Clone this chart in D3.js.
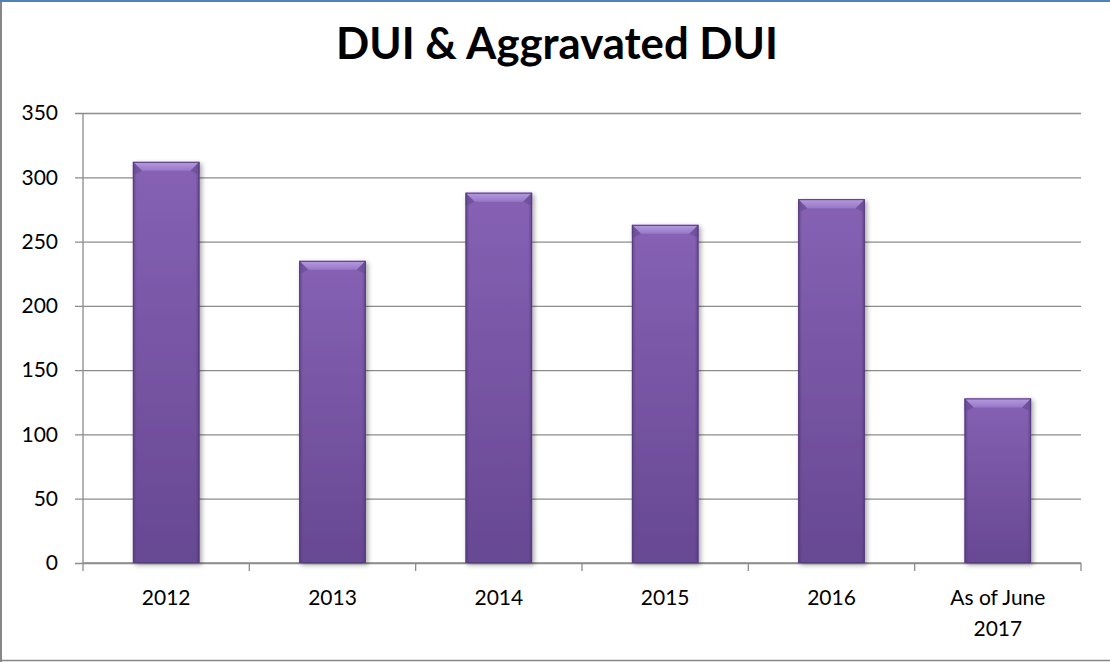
<!DOCTYPE html>
<html>
<head>
<meta charset="utf-8">
<script src="https://cdn.jsdelivr.net/npm/d3@7"></script>
<style>
  html, body { margin: 0; padding: 0; background: #fff; }
  svg { display: block; }
  text { font-family: Lato, "Open Sans", sans-serif; fill: #000; }
</style>
</head>
<body>
<svg id="chart" width="1110" height="662"></svg>
<script>
// Yearly counts of DUI & Aggravated DUI
const categories = ["2012", "2013", "2014", "2015", "2016", "As of June 2017"];
const values = [312, 235, 288, 263, 283, 128];
const yTicks = [0, 50, 100, 150, 200, 250, 300, 350];
const title = "DUI & Aggravated DUI";

const W = 1110, H = 662;
const margin = { top: 113, right: 29, bottom: 99, left: 83 };
const innerW = W - margin.left - margin.right;
const innerH = H - margin.top - margin.bottom;
const labelSize = 21;

const svg = d3.select("#chart");
const defs = svg.append("defs");

// Bar body: lighter near the top, darker near the base
const body = defs.append("linearGradient").attr("id", "barBody")
  .attr("x1", 0).attr("y1", 0).attr("x2", 0).attr("y2", 1);
body.append("stop").attr("offset", "0%").attr("stop-color", "#8661b4");
body.append("stop").attr("offset", "100%").attr("stop-color", "#674893");

// Horizontal shading for the side edges
const sides = defs.append("linearGradient").attr("id", "barSides")
  .attr("x1", 0).attr("y1", 0).attr("x2", 1).attr("y2", 0);
sides.append("stop").attr("offset", "0%").attr("stop-color", "#4e3570").attr("stop-opacity", 0.55);
sides.append("stop").attr("offset", "6%").attr("stop-color", "#4e3570").attr("stop-opacity", 0.0);
sides.append("stop").attr("offset", "94%").attr("stop-color", "#4e3570").attr("stop-opacity", 0.0);
sides.append("stop").attr("offset", "100%").attr("stop-color", "#4e3570").attr("stop-opacity", 0.55);

const bevel = defs.append("linearGradient").attr("id", "barBevel")
  .attr("x1", 0).attr("y1", 0).attr("x2", 0).attr("y2", 1);
bevel.append("stop").attr("offset", "0%").attr("stop-color", "#b79be0");
bevel.append("stop").attr("offset", "100%").attr("stop-color", "#9677c6");

const shadow = defs.append("filter").attr("id", "barShadow")
  .attr("x", "-20%").attr("y", "-5%").attr("width", "140%").attr("height", "115%");
shadow.append("feGaussianBlur").attr("in", "SourceAlpha").attr("stdDeviation", 2.5);
shadow.append("feOffset").attr("dx", 1.5).attr("dy", 1.5).attr("result", "blur");
shadow.append("feComponentTransfer").append("feFuncA").attr("type", "linear").attr("slope", 0.35);
const merge = shadow.append("feMerge");
merge.append("feMergeNode");
merge.append("feMergeNode").attr("in", "SourceGraphic");

// Frame: blue top rule, grey left and bottom edges
svg.append("rect").attr("x", 0).attr("y", 0).attr("width", W).attr("height", 2).attr("fill", "#4f81bd");
svg.append("line").attr("x1", 1).attr("x2", 1).attr("y1", 2).attr("y2", H)
  .attr("stroke", "#868686").attr("stroke-width", 2);
svg.append("line").attr("x1", 0).attr("x2", W).attr("y1", H - 1.5).attr("y2", H - 1.5)
  .attr("stroke", "#868686").attr("stroke-width", 1.5);

// Title
const titleText = svg.append("text")
  .attr("x", 557).attr("y", 59)
  .attr("text-anchor", "middle")
  .attr("font-weight", 700)
  .attr("font-size", 40)
  .text(title);
const tw = titleText.node().getComputedTextLength();
titleText.attr("font-size", 40 * 442 / tw);

const g = svg.append("g").attr("transform", `translate(${margin.left},${margin.top})`);

const x = d3.scaleBand().domain(categories).range([0, innerW])
  .paddingInner(0.6).paddingOuter(0.3);
const y = d3.scaleLinear().domain([0, 350]).range([innerH, 0]);

// Horizontal gridlines with left tick marks
const yAxis = d3.axisLeft(y).tickValues(yTicks).tickSize(-innerW - 8).tickPadding(25);
const yG = g.append("g").call(yAxis);
yG.attr("font-size", labelSize).attr("font-family", null);
yG.select(".domain").remove();
yG.selectAll(".tick line").attr("x1", -8).attr("x2", innerW)
  .attr("stroke", "#8c8c8c").attr("stroke-width", 1.3);
yG.selectAll(".tick text").attr("fill", "#000");

// Vertical axis line
g.append("line").attr("x1", 0).attr("x2", 0).attr("y1", 0).attr("y2", innerH)
  .attr("stroke", "#8c8c8c").attr("stroke-width", 1.3);

// Category axis: ticks sit between categories
const edges = d3.range(categories.length + 1).map(i => i * x.step());
const xG = g.append("g").attr("transform", `translate(0,${innerH})`);
xG.append("line").attr("x1", 0).attr("x2", innerW).attr("stroke", "#8c8c8c").attr("stroke-width", 1.3);
xG.selectAll("line.tick").data(edges).join("line").attr("class", "tick")
  .attr("x1", d => d).attr("x2", d => d).attr("y1", 0).attr("y2", 8)
  .attr("stroke", "#8c8c8c").attr("stroke-width", 1.3);

// Category labels, wrapped onto two lines where long
const labelLines = { "As of June 2017": ["As of June", "2017"] };
xG.selectAll("text.cat").data(categories).join("text").attr("class", "cat")
  .attr("text-anchor", "middle").attr("font-size", labelSize)
  .attr("x", d => x(d) + x.bandwidth() / 2)
  .each(function (d) {
    const lines = labelLines[d] || [d];
    d3.select(this).selectAll("tspan").data(lines).join("tspan")
      .attr("x", x(d) + x.bandwidth() / 2)
      .attr("y", (l, i) => 42 + i * 31)
      .text(l => l);
  });

// Bevelled bars
const bars = g.selectAll("g.bar").data(values).join("g").attr("class", "bar")
  .attr("filter", "url(#barShadow)");
const bx = (d, i) => x(categories[i]);
const bw = x.bandwidth();
const bev = 9;

bars.append("rect")
  .attr("x", bx).attr("y", d => y(d))
  .attr("width", bw).attr("height", d => innerH - y(d))
  .attr("fill", "url(#barBody)");
bars.append("rect")
  .attr("x", bx).attr("y", d => y(d))
  .attr("width", bw).attr("height", d => innerH - y(d))
  .attr("fill", "url(#barSides)");
bars.append("path")
  .attr("d", (d, i) => {
    const x0 = bx(d, i), y0 = y(d);
    return `M${x0},${y0}L${x0 + bw},${y0}L${x0 + bw - bev},${y0 + bev}L${x0 + bev},${y0 + bev}Z`;
  })
  .attr("fill", "url(#barBevel)");
// Darker facets running down each side below the top bevel
bars.append("path")
  .attr("d", (d, i) => {
    const x0 = bx(d, i), y0 = y(d);
    return `M${x0},${y0}L${x0 + bev},${y0 + bev}L${x0 + 3},${y0 + bev + 3}L${x0},${y0 + bev + 3}Z` +
           `M${x0 + bw},${y0}L${x0 + bw - bev},${y0 + bev}L${x0 + bw - 3},${y0 + bev + 3}L${x0 + bw},${y0 + bev + 3}Z`;
  })
  .attr("fill", "#6a4b94").attr("opacity", 0.7);
bars.append("rect")
  .attr("x", (d, i) => bx(d, i) + 0.5).attr("y", d => y(d) + 0.5)
  .attr("width", bw - 1).attr("height", d => innerH - y(d) - 1)
  .attr("fill", "none").attr("stroke", "#563c7c").attr("stroke-width", 1);
</script>
</body>
</html>
